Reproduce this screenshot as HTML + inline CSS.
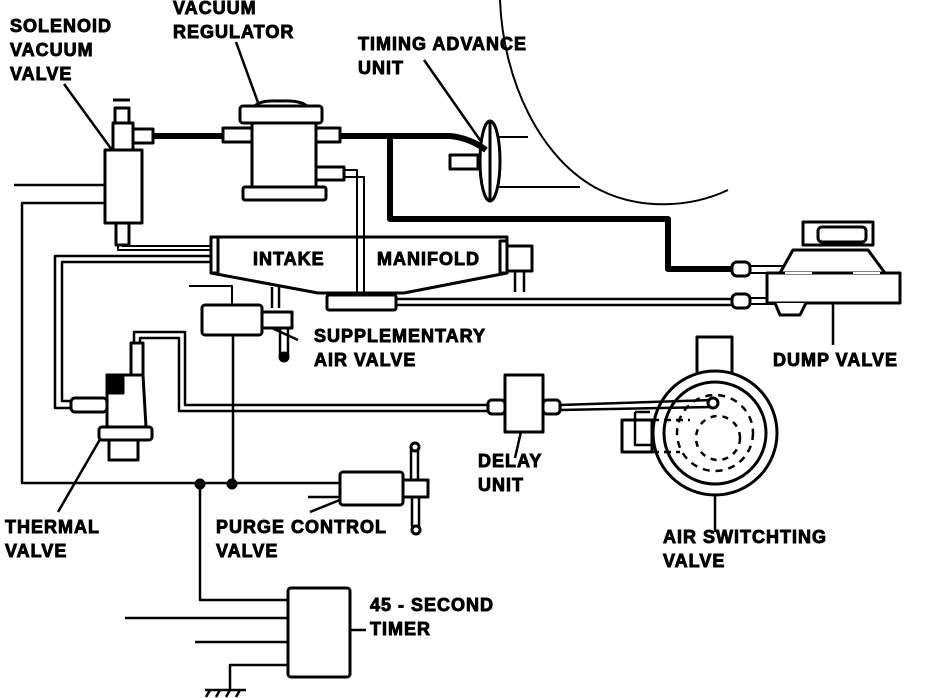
<!DOCTYPE html>
<html><head><meta charset="utf-8"><style>
html,body{margin:0;padding:0;background:#fff;}
svg{display:block;}
text{font-family:"Liberation Sans",Arial,sans-serif;font-weight:700;font-size:18px;letter-spacing:1px;fill:#000;stroke:#000;stroke-width:0.9px;}
</style></head><body>
<svg width="928" height="698" viewBox="0 0 928 698" xmlns="http://www.w3.org/2000/svg">
<g fill="none" stroke="#000" stroke-width="3" stroke-linejoin="round">
<g stroke-width="2.5">
<line x1="64" y1="84" x2="128" y2="172"/>
<line x1="236" y1="42" x2="268" y2="130"/>
<line x1="424" y1="60" x2="487" y2="150"/>
<line x1="298" y1="340" x2="250" y2="318"/>
<line x1="833" y1="345" x2="833" y2="292"/>
<line x1="515" y1="458" x2="527" y2="405"/>
<line x1="58" y1="512" x2="117" y2="410"/>
<line x1="310" y1="512" x2="372" y2="487"/>
<line x1="715" y1="532" x2="715" y2="440"/>
<line x1="321" y1="630" x2="366" y2="630"/>
</g>
<path d="M500,0 C503,80 540,160 600,190 C640,210 690,208 728,190" stroke-width="2"/>
<line x1="495" y1="137" x2="528" y2="137" stroke-width="2"/>
<line x1="495" y1="187" x2="580" y2="187" stroke-width="2"/>
<ellipse cx="490" cy="161" rx="10" ry="40" fill="#fff"/>
<line x1="490" y1="121" x2="490" y2="201"/>
<rect x="450" y="155" width="28" height="14" fill="#fff"/>
<path d="M150,136 L450,136 Q470,138 486,150" stroke-width="6"/>
<path d="M390,136 L390,219 L668,219 L668,269 L735,269" stroke-width="6"/>
<rect x="105" y="150" width="37" height="73" fill="#fff"/>
<rect x="113" y="123" width="20" height="27" fill="#fff"/>
<rect x="133" y="129" width="20" height="14" fill="#fff"/>
<rect x="115" y="108" width="14" height="15" fill="#fff"/>
<line x1="113" y1="100" x2="130" y2="100"/>
<rect x="116" y="223" width="13" height="22" fill="#fff"/>
<path d="M118,244 L118,250 L211,250" stroke-width="2"/>
<line x1="122" y1="246" x2="211" y2="246" stroke-width="2"/>
<rect x="223" y="128" width="29" height="14" fill="#fff"/>
<rect x="316" y="128" width="24" height="14" fill="#fff"/>
<rect x="252" y="122" width="64" height="66" fill="#fff"/>
<rect x="240" y="106" width="82" height="17" rx="3" fill="#fff"/>
<path d="M255,106 Q260,100 280,101 Q300,100 307,106"/>
<rect x="243" y="187" width="83" height="13" rx="2" fill="#fff"/>
<rect x="316" y="167" width="28" height="13" fill="#fff"/>
<path d="M344,170 L357,170 L357,296 M344,177 L364,177 L364,296" stroke-width="2"/>
<path d="M211,237 L507,237 L507,273 L404,293 L318,293 L211,273 Z" fill="#fff"/>
<rect x="211" y="237" width="7" height="36" fill="#fff"/>
<rect x="500" y="241" width="7" height="32" fill="#fff"/>
<rect x="507" y="246" width="25" height="25" fill="#fff"/>
<path d="M515,271 L515,292 M524,271 L524,292" stroke-width="2.5"/>
<path d="M357,237 L357,293 M364,237 L364,293" stroke-width="2"/>
<rect x="327" y="295" width="69" height="15" rx="2" fill="#fff"/>
<path d="M396,299 L732,299 M396,305 L732,305" stroke-width="2.5"/>
<path d="M272,287 L272,308 M279,287 L279,308" stroke-width="2.5"/>
<path d="M189,286 L232,286 L232,305" stroke-width="2"/>
<rect x="202" y="305" width="60" height="30" rx="3" fill="#fff"/>
<rect x="262" y="312" width="30" height="16" fill="#fff"/>
<path d="M280,328 L280,355 M288,328 L288,355" stroke-width="2.5"/>
<circle cx="284" cy="357" r="4" fill="#000"/>
<rect x="732" y="262" width="18" height="14" rx="5" fill="#fff"/>
<rect x="732" y="294" width="18" height="14" rx="5" fill="#fff"/>
<path d="M750,266 L790,266 M750,273 L775,273 M750,298 L770,298 M750,304 L775,304" stroke-width="2"/>
<path d="M780,273 L793,250 L868,250 L885,273" fill="#fff"/>
<path d="M767,273 L900,273 L900,303 L767,303 Z" fill="#fff"/>
<path d="M775,303 L780,315 L800,315 L806,303" fill="#fff"/>
<rect x="803" y="222" width="70" height="23" fill="#fff"/>
<rect x="818" y="227" width="48" height="15" rx="4" fill="#fff"/>
<path d="M785,273 L812,273 M853,273 L880,273" stroke="#fff" stroke-width="2"/>
<line x1="14" y1="185" x2="105" y2="185" stroke-width="2.5"/>
<path d="M105,203 L22,203 L22,483 L343,483" stroke-width="2.5"/>
<line x1="233" y1="335" x2="233" y2="483" stroke-width="2.5"/>
<path d="M200,483 L200,600 L288,600" stroke-width="2.5"/>
<circle cx="200" cy="484" r="4" fill="#000"/>
<circle cx="232" cy="484" r="4" fill="#000"/>
<path d="M211,256 L55,256 L55,408 L71,408 M211,262 L62,262 L62,401 L71,401" stroke-width="2.5"/>
<rect x="71" y="398" width="36" height="14" rx="4" fill="#fff"/>
<path d="M107,375 L143,375 L146,427 L107,427 Z" fill="#fff"/>
<rect x="107" y="375" width="16" height="18" fill="#000"/>
<rect x="99" y="427" width="53" height="13" rx="3" fill="#fff"/>
<rect x="109" y="440" width="29" height="20" fill="#fff"/>
<rect x="131" y="343" width="12" height="32" fill="#fff"/>
<path d="M134,343 L134,332 L185,332 L185,405 L488,405 M140,343 L140,338 L179,338 L179,411 L488,411" stroke-width="2.5"/>
<rect x="488" y="400" width="17" height="14" rx="4" fill="#fff"/>
<rect x="543" y="400" width="17" height="14" rx="4" fill="#fff"/>
<rect x="505" y="375" width="38" height="57" fill="#fff"/>
<rect x="697" y="337" width="35" height="40" fill="#fff"/>
<circle cx="715" cy="433" r="62" fill="#fff"/>
<circle cx="715" cy="433" r="51"/>
<circle cx="715" cy="433" r="38" stroke-dasharray="7 6" stroke-width="2.5"/>
<circle cx="718" cy="438" r="22" stroke-dasharray="6 6" stroke-width="2.5"/>
<path d="M622,420 L652,420 L652,452 L622,452 Z" fill="#fff"/>
<path d="M635,412 L650,412 M635,412 L635,445 L655,445" stroke-width="2.5"/>
<path d="M652,420 L690,420 M652,452 L680,452" stroke-dasharray="7 5" stroke-width="2.5"/>
<path d="M560,405 L713,400 M560,410 L712,407" stroke-width="2.5"/>
<circle cx="713" cy="403" r="5" fill="#fff"/>
<line x1="308" y1="497" x2="340" y2="497" stroke-width="2.5"/>
<rect x="340" y="472" width="63" height="33" rx="3" fill="#fff"/>
<rect x="403" y="480" width="25" height="17" fill="#fff"/>
<path d="M411,447 L411,480 M418,447 L418,480 M412,497 L412,527 M419,497 L419,527" stroke-width="2.5"/>
<circle cx="415" cy="447" r="4" fill="#fff"/>
<circle cx="416" cy="530" r="4" fill="#fff"/>
<rect x="288" y="588" width="62" height="89" rx="3" fill="#fff"/>
<line x1="125" y1="618" x2="288" y2="618" stroke-width="2.5"/>
<line x1="195" y1="642" x2="288" y2="642" stroke-width="2.5"/>
<path d="M288,665 L230,665 L230,690" stroke-width="2.5"/>
<path d="M205,690 L246,690 M210,690 L206,697 M220,690 L216,697 M230,690 L226,697 M240,690 L236,697" stroke-width="2.5"/>
</g>
<g font-weight="bold">
<text x="10" y="32">SOLENOID</text>
<text x="10" y="56">VACUUM</text>
<text x="10" y="80">VALVE</text>
<text x="173" y="14">VACUUM</text>
<text x="173" y="38">REGULATOR</text>
<text x="358" y="50">TIMING  ADVANCE</text>
<text x="358" y="74">UNIT</text>
<text x="253" y="265">INTAKE</text>
<text x="377" y="265">MANIFOLD</text>
<text x="314" y="342">SUPPLEMENTARY</text>
<text x="314" y="366">AIR  VALVE</text>
<text x="773" y="366">DUMP  VALVE</text>
<text x="478" y="467">DELAY</text>
<text x="478" y="491">UNIT</text>
<text x="5" y="533">THERMAL</text>
<text x="5" y="557">VALVE</text>
<text x="216" y="533">PURGE CONTROL</text>
<text x="216" y="557">VALVE</text>
<text x="663" y="543">AIR  SWITCHTING</text>
<text x="663" y="567">VALVE</text>
<text x="370" y="611">45 - SECOND</text>
<text x="370" y="635">TIMER</text>
</g>
</svg>
</body></html>
